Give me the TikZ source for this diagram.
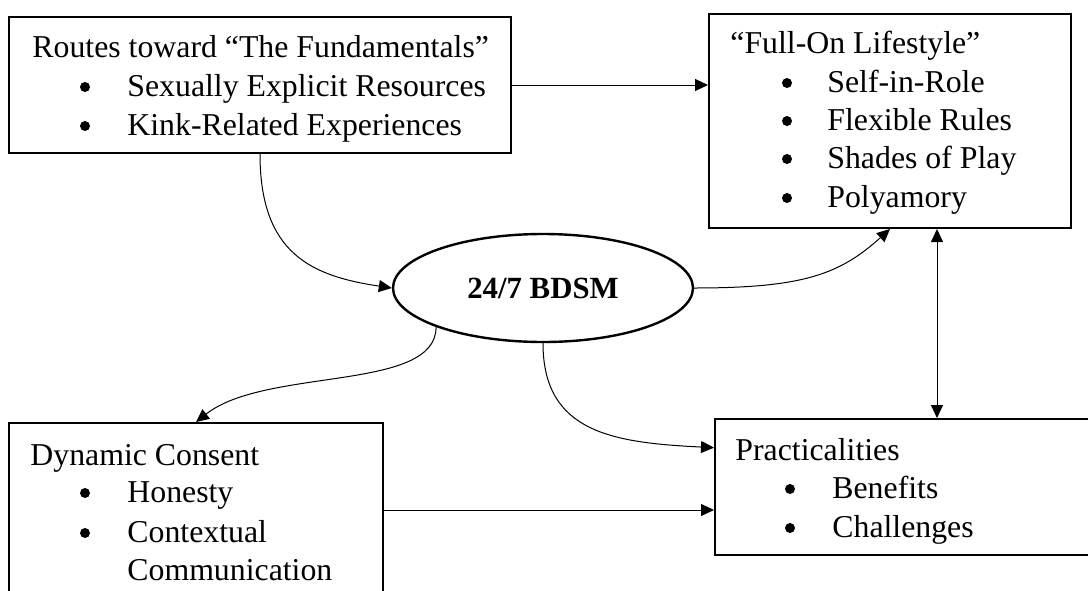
\documentclass[tikz,border=0pt]{standalone}
\usepackage{fontspec}
\setmainfont{Liberation Serif}
\usetikzlibrary{arrows.meta,shapes.geometric}

\tikzset{
  box/.style={draw, black, line width=1pt, inner sep=0pt},
  conn/.style={line width=0.5pt, -{Triangle[length=6.5pt,width=6pt]}},
  twoway/.style={line width=0.5pt, {Triangle[length=6.5pt,width=6pt]}-{Triangle[length=6.5pt,width=6pt]}},
  txt/.style={anchor=base west, inner sep=0pt, font=\fontsize{15.9}{19}\selectfont},
  dot/.style={circle, fill, inner sep=0pt, minimum size=5pt, yshift=4.5pt},
}

\begin{document}
\begin{tikzpicture}[x=0.5pt, y=-0.5pt]
            \clip (0, 0) rectangle (1088, 590);
            % boxes
            \node [box, minimum width=251pt, minimum height=68pt] (tl) at (260, 85) {};
            \node [box, minimum width=181pt, minimum height=107pt] (tr) at (890, 121) {};
            \node [box, minimum width=187pt, minimum height=87pt] (bl) at (196, 510) {};
            \node [box, minimum width=222pt, minimum height=68pt] (br) at (937, 487) {};
            \node [draw, ellipse, line width=1.2pt, inner sep=0pt, minimum width=150pt, minimum height=54pt,
                   font=\fontsize{15.4}{20}\selectfont\bfseries] (ell) at (543, 288) {24/7 BDSM};
            % top left
            \node [txt] (tl0) at (32, 57) {Routes toward “The Fundamentals”};
            \node [dot] (tl1b) at (85, 96) {};
            \node [txt] (tl1) at (127, 96) {Sexually Explicit Resources};
            \node [dot] (tl2b) at (85, 135) {};
            \node [txt] (tl2) at (127, 135) {Kink-Related Experiences};
            % top right
            \node [txt] (tr0) at (730, 53) {“Full-On Lifestyle”};
            \node [dot] (tr1b) at (787, 92) {};
            \node [txt] (tr1) at (827, 92) {Self-in-Role};
            \node [dot] (tr2b) at (787, 130) {};
            \node [txt] (tr2) at (827, 130) {Flexible Rules};
            \node [dot] (tr3b) at (787, 168) {};
            \node [txt] (tr3) at (827, 168) {Shades of Play};
            \node [dot] (tr4b) at (787, 207) {};
            \node [txt] (tr4) at (827, 207) {Polyamory};
            % bottom left
            \node [txt] (bl0) at (30, 465) {Dynamic Consent};
            \node [dot] (bl1b) at (85, 502) {};
            \node [txt] (bl1) at (127, 502) {Honesty};
            \node [dot] (bl2b) at (85, 542) {};
            \node [txt] (bl2) at (127, 542) {Contextual};
            \node [txt] (bl3) at (127, 580) {Communication};
            % bottom right
            \node [txt] (br0) at (735, 460) {Practicalities};
            \node [dot] (br1b) at (790, 498) {};
            \node [txt] (br1) at (832, 498) {Benefits};
            \node [dot] (br2b) at (790, 537) {};
            \node [txt] (br2) at (832, 537) {Challenges};
            % connectors
            \draw [conn] (tl.east) -- (tl.east -| tr.west);
            \draw [conn] (bl.east) -- (bl.east -| br.west);
            \draw [twoway] (br.north) -- (br.north |- tr.south);
            \draw [conn] (tl.south) .. controls +(0, 100) and +(-80, -12) .. (ell.west);
            \draw [conn] (ell.east) .. controls +(110, 0) and +(-50, 45) .. (tr.south);
            \draw [conn] (ell.south west) .. controls +(0, 65) and +(70, -55) .. (bl.north);
            \draw [conn] (ell.south) .. controls +(0, 90) and +(-100, -5) .. (br.170);
\end{tikzpicture}
\end{document}
